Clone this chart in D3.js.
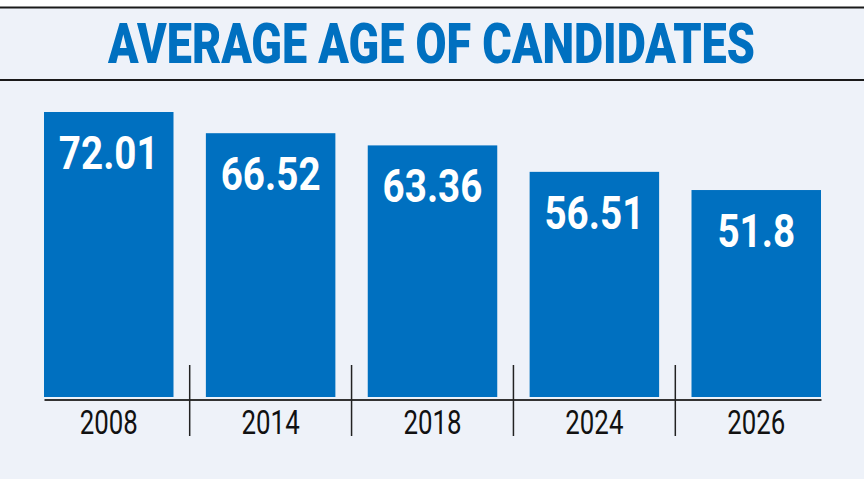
<!DOCTYPE html>
<html>
<head>
<meta charset="utf-8">
<script src="https://cdn.jsdelivr.net/npm/d3@7"></script>
<style>
  html, body { margin: 0; padding: 0; background: #fff; }
  svg { display: block; }
</style>
</head>
<body>
<script>
const years = ["2008", "2014", "2018", "2024", "2026"];
const ages = [72.01, 66.52, 63.36, 56.51, 51.8];
const title = "AVERAGE AGE OF CANDIDATES";

const width = 864, height = 479;
const blue = "#0070c0";
const bg = "#eef2f9";
const baseY = 397;

const svg = d3.select("body").append("svg")
    .attr("width", width)
    .attr("height", height);

// background + header rules
svg.append("rect").attr("width", width).attr("height", height).attr("fill", "#fff");
svg.append("rect").attr("y", 7).attr("width", width).attr("height", height - 7).attr("fill", bg);
svg.append("line").attr("x1", 0).attr("x2", width).attr("y1", 7.5).attr("y2", 7.5)
    .attr("stroke", "#1a1a1a").attr("stroke-width", 2);
svg.append("line").attr("x1", 0).attr("x2", width).attr("y1", 80).attr("y2", 80)
    .attr("stroke", "#1a1a1a").attr("stroke-width", 2);

// title, squeezed horizontally to mimic a condensed face
const titleText = svg.append("text")
    .attr("text-anchor", "middle")
    .attr("font-family", "Roboto")
    .attr("font-weight", 900)
    .attr("font-size", 55)
    .attr("fill", blue)
    .text(title);
const tw = titleText.node().getComputedTextLength();
titleText.attr("transform", "translate(431.5,63) scale(" + (647 / tw) + ",1)");

const x = d3.scaleBand()
    .domain(years)
    .range([44, 821])
    .paddingInner(0.2)
    .paddingOuter(0);

// the printed bars don't quite start from zero
const y = d3.scaleLinear()
    .domain([-1.8, 72.01])
    .range([baseY, 112]);

svg.selectAll("rect.bar")
    .data(years)
    .join("rect")
    .attr("class", "bar")
    .attr("x", d => x(d))
    .attr("y", (d, i) => y(ages[i]))
    .attr("width", x.bandwidth())
    .attr("height", (d, i) => baseY - y(ages[i]))
    .attr("fill", blue);

svg.selectAll("text.val")
    .data(years)
    .join("text")
    .attr("class", "val")
    .attr("transform", (d, i) => "translate(" + (x(d) + x.bandwidth() / 2) + "," + (y(ages[i]) + 57) + ") scale(0.84,1)")
    .attr("text-anchor", "middle")
    .attr("font-family", "Roboto")
    .attr("font-weight", 700)
    .attr("font-size", 46)
    .attr("fill", "#fff")
    .text((d, i) => ages[i]);

// axis
const xAxis = d3.axisBottom(x)
    .tickSize(0)
    .tickSizeOuter(0)
    .tickPadding(10);

const gx = svg.append("g")
    .attr("transform", "translate(0,399.5)")
    .call(xAxis);

gx.select(".domain").attr("stroke", "#333").attr("stroke-width", 2);
gx.selectAll(".tick text")
    .attr("font-family", "Roboto")
    .attr("font-weight", 400)
    .attr("font-size", 34)
    .attr("fill", "#111")
    .attr("transform", "scale(0.76,1)");

// separators between categories
const half = x.step() * x.paddingInner() / 2;
svg.selectAll("line.sep")
    .data(years.slice(1))
    .join("line")
    .attr("class", "sep")
    .attr("x1", d => x(d) - half)
    .attr("x2", d => x(d) - half)
    .attr("y1", 365)
    .attr("y2", 436)
    .attr("stroke", "#222")
    .attr("stroke-width", 1.5);
</script>
</body>
</html>
